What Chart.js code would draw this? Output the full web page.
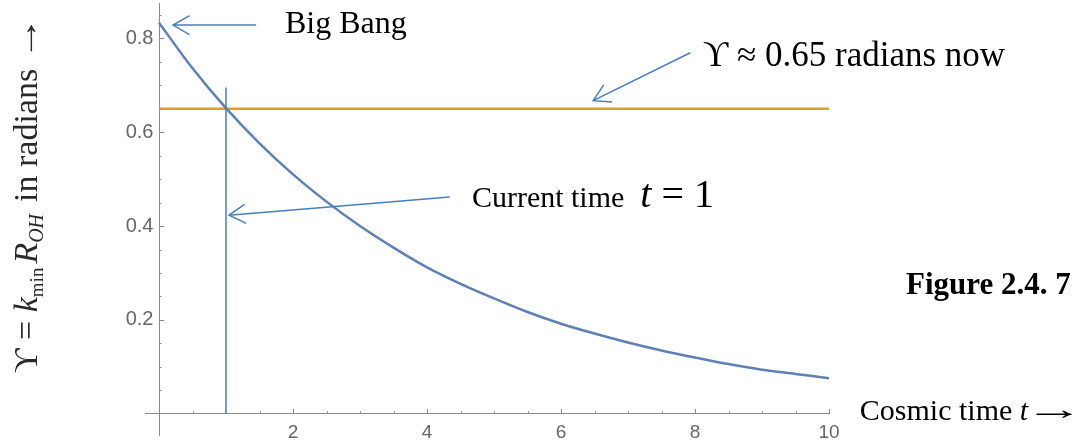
<!DOCTYPE html>
<html>
<head>
<meta charset="utf-8">
<script src="https://cdn.jsdelivr.net/npm/chart.js@4"></script>
<style>
  html, body { margin: 0; padding: 0; background: #fff; }
  #wrap { position: relative; width: 1086px; height: 443px; }
</style>
</head>
<body>
<div id="wrap"><canvas id="c"></canvas></div>
<script>
// ---- data ----
const cosmicTime = [0, 0.5, 1, 1.5, 2, 2.5, 3, 3.5, 4, 4.5, 5, 5.5, 6, 6.5, 7, 7.5, 8, 8.5, 9, 9.5, 10];
const upsilon    = [0.833, 0.736, 0.651, 0.576, 0.51, 0.452, 0.40, 0.354, 0.312, 0.277, 0.246, 0.217, 0.192, 0.171, 0.152, 0.135, 0.12, 0.106, 0.094, 0.085, 0.076];
const nowLineX   = [0, 10];
const nowLineY   = [0.65, 0.65];
const currentTimeX = [1, 1];
const currentTimeY = [0, 0.695];

const xTickValues = [2, 4, 6, 8, 10];
const xTickLabels = ['2', '4', '6', '8', '10'];
const xMinorTicks = [0.5, 1, 1.5, 2.5, 3, 3.5, 4.5, 5, 5.5, 6.5, 7, 7.5, 8.5, 9, 9.5];
const yTickValues = [0.2, 0.4, 0.6, 0.8];
const yTickLabels = ['0.2', '0.4', '0.6', '0.8'];
const yMinorTicks = [0.05, 0.1, 0.15, 0.25, 0.3, 0.35, 0.45, 0.5, 0.55, 0.65, 0.7, 0.75, 0.85];

const bigBangText = 'Big Bang';
const nowText = 'ϒ ≈ 0.65 radians now';
const currentText = 'Current time';
const currentMath = ['t', ' = 1'];
const xTitleText = ['Cosmic time ', 't', '→'];
const figureText = 'Figure 2.4. 7';
const yTitleText = ['ϒ = ', 'k', 'min', 'R', 'OH', 'in radians ', '→'];

// ---- annotation placement (data units) ----
const arrows = [
  { x1: 1.45, y1: 0.828, x2: 0.21, y2: 0.828 },
  { x1: 7.93, y1: 0.769, x2: 6.48, y2: 0.667 },
  { x1: 4.34, y1: 0.462, x2: 1.045, y2: 0.423 }
];

const SERIF = "'Liberation Serif', 'DejaVu Serif', serif";
const ARROW_COLOR = '#4A7EBB';

function pts(xs, ys) { return xs.map((x, i) => ({ x: x, y: ys[i] })); }

function drawRich(ctx, segs, x, y) {
  let cx = x;
  for (const s of segs) {
    ctx.font = s.font;
    const w = ctx.measureText(s.text).width;
    const sx = s.sx || 1;
    ctx.save();
    ctx.translate(cx, y + (s.dy || 0));
    ctx.scale(sx, 1);
    ctx.fillText(s.text, 0, 0);
    ctx.restore();
    cx += w * sx + (s.gap || 0);
  }
}

const decorPlugin = {
  id: 'decor',
  afterDatasetsDraw(chart) {
    const ctx = chart.ctx;
    const xs = chart.scales.x, ys = chart.scales.y;
    const x0 = xs.getPixelForValue(0), y0 = ys.getPixelForValue(0);
    ctx.save();
    // ticks (inward, Mathematica style)
    ctx.strokeStyle = '#8a8a8a';
    ctx.lineWidth = 1;
    ctx.beginPath();
    xTickValues.forEach(v => { const p = Math.round(xs.getPixelForValue(v)) + 0.5; ctx.moveTo(p, y0); ctx.lineTo(p, y0 - 5); });
    xMinorTicks.forEach(v => { const p = Math.round(xs.getPixelForValue(v)) + 0.5; ctx.moveTo(p, y0); ctx.lineTo(p, y0 - 2.5); });
    yTickValues.forEach(v => { const p = Math.round(ys.getPixelForValue(v)) + 0.5; ctx.moveTo(x0, p); ctx.lineTo(x0 + 5, p); });
    yMinorTicks.forEach(v => { const p = Math.round(ys.getPixelForValue(v)) + 0.5; ctx.moveTo(x0, p); ctx.lineTo(x0 + 2.5, p); });
    ctx.stroke();

    // arrows
    ctx.strokeStyle = ARROW_COLOR;
    ctx.lineWidth = 1.5;
    arrows.forEach(a => {
      const px1 = xs.getPixelForValue(a.x1), py1 = ys.getPixelForValue(a.y1);
      const px2 = xs.getPixelForValue(a.x2), py2 = ys.getPixelForValue(a.y2);
      const ang = Math.atan2(py1 - py2, px1 - px2);
      const L = 19, w = Math.PI / 6;
      ctx.beginPath();
      ctx.moveTo(px1, py1); ctx.lineTo(px2, py2);
      ctx.moveTo(px2 + L * Math.cos(ang + w), py2 + L * Math.sin(ang + w));
      ctx.lineTo(px2, py2);
      ctx.lineTo(px2 + L * Math.cos(ang - w), py2 + L * Math.sin(ang - w));
      ctx.stroke();
    });

    // texts
    ctx.fillStyle = '#000';
    ctx.textBaseline = 'alphabetic';
    ctx.textAlign = 'left';
    ctx.font = '32px ' + SERIF;
    ctx.fillText(bigBangText, xs.getPixelForValue(1.88), ys.getPixelForValue(0.812));

    drawRich(ctx, [{ text: nowText, font: '35px ' + SERIF }],
      xs.getPixelForValue(8.12), ys.getPixelForValue(0.741));

    drawRich(ctx, [
      { text: currentText, font: '30px ' + SERIF, gap: 16 },
      { text: currentMath[0], font: 'italic 40px ' + SERIF },
      { text: currentMath[1], font: '40px ' + SERIF }
    ], xs.getPixelForValue(4.67), ys.getPixelForValue(0.4406));

    drawRich(ctx, [
      { text: xTitleText[0], font: '30px ' + SERIF },
      { text: xTitleText[1], font: 'italic 30px ' + SERIF, gap: -4 },
      { text: xTitleText[2], font: '30px ' + SERIF, sx: 2.0, dy: -1 }
    ], xs.getPixelForValue(10.46), ys.getPixelForValue(-0.013));

    ctx.font = 'bold 31px ' + SERIF;
    ctx.fillText(figureText, xs.getPixelForValue(11.15), ys.getPixelForValue(0.255));

    // y-axis title (rotated)
    ctx.save();
    ctx.translate(37, 373);
    ctx.rotate(-Math.PI / 2);
    ctx.fillStyle = '#2a2a2a';
    drawRich(ctx, [
      { text: yTitleText[0], font: '34px ' + SERIF },
      { text: yTitleText[1], font: 'italic 34px ' + SERIF },
      { text: yTitleText[2], font: '19px ' + SERIF, dy: 6, gap: 4 },
      { text: yTitleText[3], font: 'italic 34px ' + SERIF },
      { text: yTitleText[4], font: 'italic 20px ' + SERIF, dy: 6, gap: 12 },
      { text: yTitleText[5], font: '34px ' + SERIF },
      { text: yTitleText[6], font: '34px ' + SERIF, sx: 1.3 }
    ], 0, 0);
    ctx.restore();

    ctx.restore();
  }
};

const noPad = s => { s.paddingTop = 0; s.paddingBottom = 0; s.paddingLeft = 0; s.paddingRight = 0; };

new Chart(document.getElementById('c'), {
  type: 'line',
  data: {
    datasets: [
      { data: pts(cosmicTime, upsilon), borderColor: '#5E81B5', borderWidth: 2.5, pointRadius: 0, cubicInterpolationMode: 'monotone', order: 1 },
      { data: pts(nowLineX, nowLineY), borderColor: '#E39E2A', borderWidth: 2.5, pointRadius: 0, order: 2 },
      { data: pts(currentTimeX, currentTimeY), borderColor: ARROW_COLOR, borderWidth: 1.5, pointRadius: 0, order: 0 }
    ]
  },
  options: {
    responsive: true,
    maintainAspectRatio: false,
    animation: false,
    layout: { padding: { left: 145.6, right: 257, top: 3, bottom: 8 } },
    plugins: { legend: { display: false }, tooltip: { enabled: false } },
    scales: {
      x: {
        type: 'linear', min: -0.2, max: 10,
        position: { y: 0 },
        afterBuildTicks: s => { s.ticks = xTickValues.map(v => ({ value: v })); },
        afterFit: noPad,
        ticks: { callback: (v) => xTickLabels[xTickValues.indexOf(v)], color: '#666', font: { family: "'Liberation Sans', Arial, sans-serif", size: 19 }, padding: 7, maxRotation: 0, autoSkip: false },
        grid: { display: true, drawOnChartArea: false, drawTicks: false },
        border: { display: true, color: '#8a8a8a', width: 1 }
      },
      y: {
        type: 'linear', min: -0.045, max: 0.875,
        position: { x: 0 },
        afterBuildTicks: s => { s.ticks = yTickValues.map(v => ({ value: v })); },
        afterFit: noPad,
        // axis positioned at x = 0 ignores tick padding, so a trailing space keeps the labels off the axis line
        ticks: { callback: (v) => yTickLabels[yTickValues.indexOf(v)] + ' ', color: '#666', font: { family: "'Liberation Sans', Arial, sans-serif", size: 20 }, autoSkip: false },
        grid: { display: true, drawOnChartArea: false, drawTicks: false },
        border: { display: true, color: '#8a8a8a', width: 1 }
      }
    }
  },
  plugins: [decorPlugin]
});
</script>
</body>
</html>
